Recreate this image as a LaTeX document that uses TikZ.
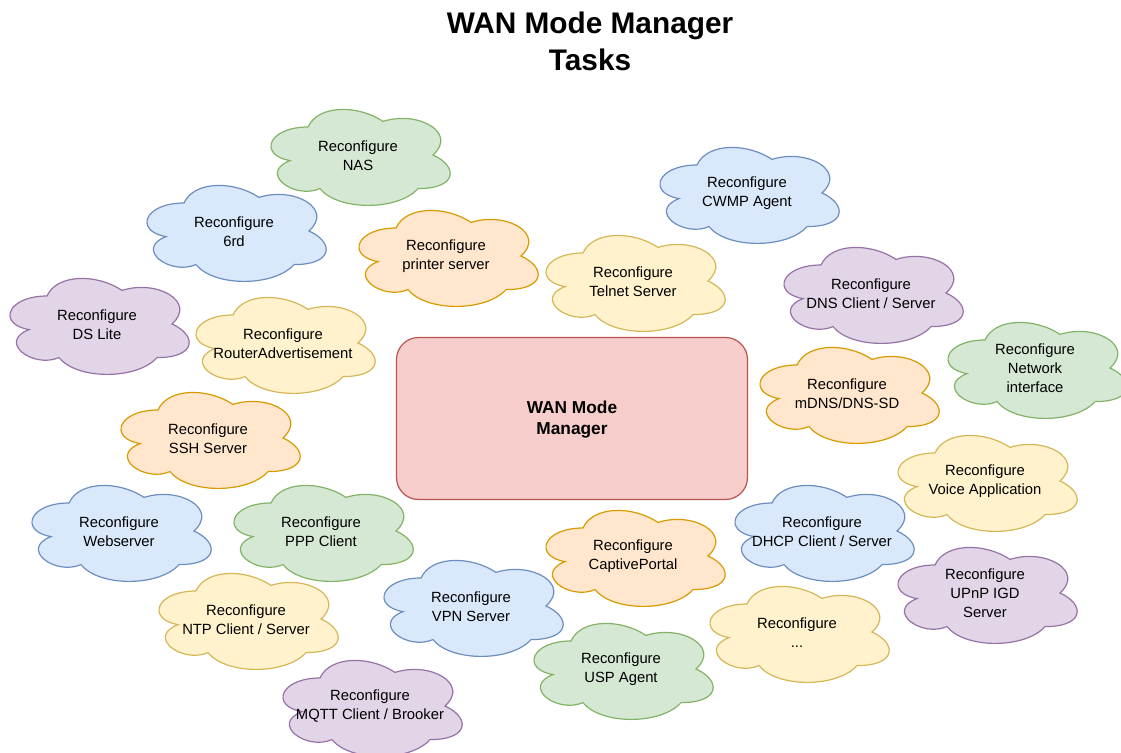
\documentclass[tikz,border=0pt]{standalone}
\usepackage{fontspec}
\setmainfont{Liberation Sans}
\definecolor{gF}{HTML}{D5E8D4}\definecolor{gD}{HTML}{82B366}
\definecolor{bF}{HTML}{DAE8FC}\definecolor{bD}{HTML}{6C8EBF}
\definecolor{oF}{HTML}{FFE6CC}\definecolor{oD}{HTML}{D79B00}
\definecolor{yF}{HTML}{FFF2CC}\definecolor{yD}{HTML}{D6B656}
\definecolor{pF}{HTML}{E1D5E7}\definecolor{pD}{HTML}{9673A6}
\definecolor{rF}{HTML}{F8CECC}\definecolor{rD}{HTML}{B85450}
\tikzset{
  cloudtext/.style={align=center, inner sep=0pt, font=\fontsize{14.8pt}{19pt}\selectfont},
  cloudline/.style={line width=1.2pt},
  mainbox/.style={draw=rD, fill=rF, line width=1.2pt, rounded corners=22pt,
    minimum width=351pt, minimum height=162pt, align=center,
    font=\bfseries\fontsize{17.3pt}{21pt}\selectfont},
  titletext/.style={align=center, font=\bfseries\fontsize{29.8pt}{37pt}\selectfont}
}
\newcommand{\mkcloud}[6]{%
  \begin{scope}[shift={(#2-100,#3-56)}]
    \draw[cloudline, fill=#4, draw=#5]
      (50,28) .. controls (10,28) and (0,56) .. (32,61.6)
      .. controls (0,73.92) and (36,100.8) .. (62,89.6)
      .. controls (80,112) and (140,112) .. (160,89.6)
      .. controls (200,89.6) and (200,67.2) .. (175,56)
      .. controls (200,33.6) and (160,11.2) .. (125,22.4)
      .. controls (100,5.6) and (60,5.6) .. (50,28) -- cycle;
  \end{scope}
  \node[cloudtext] (#1) at (#2,#3+0.5) {#6};
}
\begin{document}
\begin{tikzpicture}[x=1pt,y=-1pt]
\useasboundingbox (0,0) rectangle (1121,752);
\node[titletext] (title) at (590,41) {WAN Mode Manager\\Tasks};
\mkcloud{nas}{358}{155}{gF}{gD}{Reconfigure\\NAS}
\mkcloud{sixrd}{234}{231}{bF}{bD}{Reconfigure\\6rd}
\mkcloud{cwmp}{747}{193}{bF}{bD}{Reconfigure\\CWMP Agent}
\mkcloud{printer}{446}{256}{oF}{oD}{Reconfigure\\printer server}
\mkcloud{telnet}{633}{281}{yF}{yD}{Reconfigure\\Telnet Server}
\mkcloud{dns}{871}{293}{pF}{pD}{Reconfigure\\DNS Client / Server}
\mkcloud{dslite}{97}{324}{pF}{pD}{Reconfigure\\DS Lite}
\mkcloud{router}{283}{343}{yF}{yD}{Reconfigure\\RouterAdvertisement}
\mkcloud{netif}{1035}{368}{gF}{gD}{Reconfigure\\Network\\interface}
\mkcloud{mdns}{847}{393}{oF}{oD}{Reconfigure\\mDNS/DNS-SD}
\mkcloud{ssh}{208}{438}{oF}{oD}{Reconfigure\\SSH Server}
\mkcloud{voice}{985}{481}{yF}{yD}{Reconfigure\\Voice Application}
\mkcloud{web}{119}{531}{bF}{bD}{Reconfigure\\Webserver}
\mkcloud{ppp}{321}{531}{gF}{gD}{Reconfigure\\PPP Client}
\mkcloud{dhcp}{822}{531}{bF}{bD}{Reconfigure\\DHCP Client / Server}
\mkcloud{captive}{633}{556}{oF}{oD}{Reconfigure\\CaptivePortal}
\mkcloud{upnp}{985}{593}{pF}{pD}{Reconfigure\\UPnP IGD\\Server}
\mkcloud{ntp}{246}{619}{yF}{yD}{Reconfigure\\NTP Client / Server}
\mkcloud{vpn}{471}{606}{bF}{bD}{Reconfigure\\VPN Server}
\mkcloud{more}{797}{632}{yF}{yD}{Reconfigure\\...}
\mkcloud{usp}{621}{669}{gF}{gD}{Reconfigure\\USP Agent}
\mkcloud{mqtt}{370}{706}{pF}{pD}{Reconfigure\\MQTT Client / Brooker}
\node[mainbox] (wmm) at (572,418.5) {};
\node[align=center, inner sep=0pt, font=\bfseries\fontsize{17.3pt}{21pt}\selectfont] (wmmtext) at (572,420) {WAN Mode\\Manager};
\end{tikzpicture}
\end{document}
